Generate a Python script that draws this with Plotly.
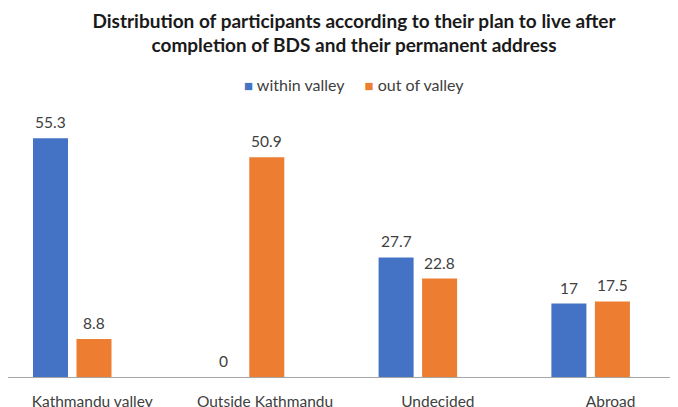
import plotly.graph_objects as go

categories = ["Kathmandu valley", "Outside Kathmandu", "Undecided", "Abroad"]
within_valley = [55.3, 0, 27.7, 17]
out_of_valley = [8.8, 50.9, 22.8, 17.5]
series_names = ["within valley", "out of valley"]
colors = ["#4472C4", "#ED7D31"]

title_text = ("Distribution of participants according to their plan to live after"
              "<br>completion of BDS and their permanent address")

FONT = "Lato, 'Open Sans', sans-serif"
W, H = 678, 407
T, B = 110, 37.5          # plot area top / bottom margins (px)
PLOT_H = H - T - B

fig = go.Figure()
for name, vals, col in zip(series_names, [within_valley, out_of_valley], colors):
    fig.add_trace(go.Bar(
        x=categories, y=vals, name=name, marker_color=col,
        marker_line_width=0, showlegend=False,
    ))

# data labels
annotations = []
for vals, shift in zip([within_valley, out_of_valley], [-21.75, 21.75]):
    for c, v in zip(categories, vals):
        annotations.append(dict(
            x=c, y=v, xref="x", yref="y", text=f"{v:g}", showarrow=False,
            xshift=shift, yshift=16, yanchor="middle",
            font=dict(family=FONT, size=15.5, color="#404040"),
        ))

# legend drawn as text
legend_txt = "     ".join(
    f"<span style='color:{c};font-size:15px'>■</span> {n}"
    for n, c in zip(series_names, colors)
)
annotations.append(dict(
    x=346 / W, y=1 + (T - 76) / PLOT_H,
    xref="paper", yref="paper", text=legend_txt,
    showarrow=False, xanchor="center", yanchor="middle",
    font=dict(family=FONT, size=16, color="#404040"),
))

fig.update_layout(
    width=W, height=H,
    margin=dict(l=0, r=0, t=T, b=B),
    paper_bgcolor="white", plot_bgcolor="white",
    barmode="group", bargap=0.4965, bargroupgap=0.195,
    title=dict(
        text=title_text, x=346 / W, xanchor="center", xref="container",
        y=1 - 19.5 / H, yref="container", yanchor="middle",
        font=dict(family=FONT, size=19, color="#1a1a1a", weight="bold"),
    ),
    annotations=annotations,
    font=dict(family=FONT, color="#404040"),
)
fig.update_xaxes(
    range=[-0.3718, 3.5518], showline=True, linecolor="#A6A6A6", linewidth=1,
    ticks="", showgrid=False, tickfont=dict(family=FONT, size=15.5, color="#404040"),
    ticklabelstandoff=10, ticklabelshift=20,
)
fig.update_yaxes(range=[0, 60], visible=False, showgrid=False)

fig.write_html("out.html")
